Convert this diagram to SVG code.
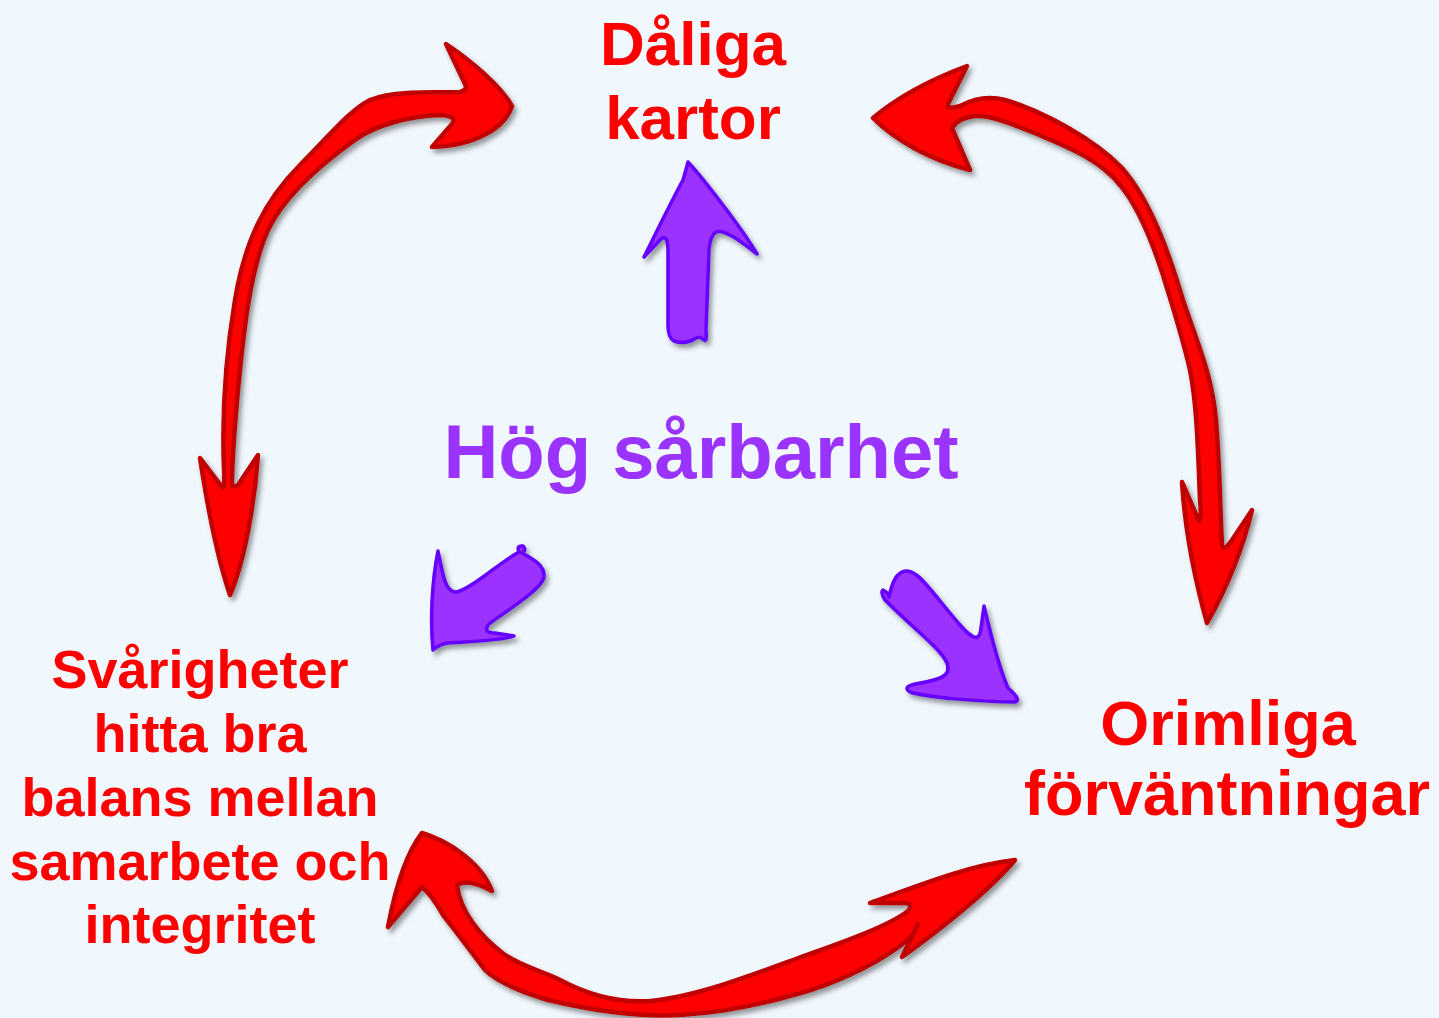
<svg xmlns="http://www.w3.org/2000/svg" width="1439" height="1018" viewBox="0 0 1439 1018">
<defs>
<filter id="sh" x="-20%" y="-20%" width="140%" height="140%">
<feDropShadow dx="3" dy="4" stdDeviation="2.5" flood-color="#4a4a4a" flood-opacity="0.55"/>
</filter>
<style>
.red{fill:#ff0000;font-family:"Liberation Sans",Arial,sans-serif;font-weight:bold;text-anchor:middle}
.pur{fill:#9b33ff;font-family:"Liberation Sans",Arial,sans-serif;font-weight:bold;text-anchor:middle}
.ra{fill:#ff0000;stroke:#c00000;stroke-width:4.5;stroke-linejoin:round;filter:url(#sh)}
.pa{fill:#9b30ff;stroke:#6600ff;stroke-width:3.5;stroke-linejoin:round;filter:url(#sh)}
</style>
</defs>
<rect width="1439" height="1018" fill="#f0f7fd"/>
<g id="connectors">
<path class="ra" d="M512,106 C505,128 475,146 432,147 L452,124 Q458,116 440,115 C410,116 375,125 355,140 C320,165 285,195 268,230 C252,265 245,320 240,370 C236,410 233,445 232,478 Q231,490 238,485 L258,455 C255,500 245,560 230,595 C218,560 208,510 200,458 L222,487 Q225,490 224,470 C222,420 225,360 235,300 C245,240 265,200 300,165 C330,135 350,110 370,100 C390,92 420,92 460,92 Q468,90 465,84 L446,44 C470,60 500,85 512,106 Z"/>
<path class="ra" d="M873,118 C900,95 935,78 967,66 L948,104 Q945,110 960,106 C975,98 990,96 1005,100 C1045,112 1095,140 1122,168 C1150,200 1168,250 1183,300 C1198,345 1212,375 1216,420 C1220,470 1220,505 1222,545 Q1224,552 1232,540 L1252,510 C1240,560 1220,600 1207,623 C1195,580 1185,530 1182,482 L1199,521 Q1202,520 1200,500 C1198,450 1197,405 1190,370 C1182,335 1172,305 1163,275 C1150,235 1137,205 1120,185 C1100,160 1070,148 1037,134 C1010,123 990,115 975,116 Q958,118 952,128 L970,170 C930,160 895,140 873,118 Z"/>
<path class="ra" d="M422,833 C445,840 480,860 492,891 Q468,878 457,885 C460,910 478,935 505,955 C525,968 545,972 560,980 C590,996 620,1003 650,1001 C700,996 760,972 801,957 C850,940 890,925 908,911 Q914,904 905,903 L870,903 C920,885 970,865 1015,860 C990,890 940,930 902,957 L918,924 Q915,935 900,946 C870,968 830,985 801,993 C760,1005 720,1013 680,1015 C640,1017 590,1010 548,1000 C515,990 495,980 485,970 C470,950 455,930 443,915 Q432,895 422,887 L388,927 C395,890 405,855 422,833 Z"/>
<path class="pa" d="M688,162 C700,175 740,225 757,254 C745,245 725,228 716,232 Q710,236 709,250 L706,330 Q707,343 704,340 Q700,336 696,338 Q686,345 674,341 Q668,338 668,325 L668,252 Q668,232 660,240 L644,257 C655,235 672,200 683,180 Q686,170 688,162 Z"/>
<path class="pa" d="M438,551 C443,575 445,592 456,592 C470,590 500,562 519,552 Q516,545 523,546 Q527,550 522,553 C535,560 545,566 544,577 C542,590 500,615 489,624 Q482,633 495,633 L514,636 Q505,640 448,643 Q440,644 433,650 C430,620 432,580 438,551 Z"/>
<path class="pa" d="M885,600 Q880,592 883,590 Q888,592 889,597 C892,583 896,572 906,571 C918,570 930,590 960,625 C975,642 980,640 981,628 L984,606 C992,640 1000,670 1008,688 Q1022,700 1015,702 C980,702 925,697 910,692 Q902,687 915,684 C940,680 952,676 947,663 C940,648 915,630 885,600 Z"/>
</g>
<g id="node-daliga-kartor">
<text class="red" font-size="62" x="693" y="65">Dåliga</text>
<text class="red" font-size="62" x="693" y="139">kartor</text>
</g>
<g id="node-hog-sarbarhet">
<text class="pur" font-size="76" x="701" y="478">Hög sårbarhet</text>
</g>
<g id="node-svarigheter">
<text class="red" font-size="54" x="200" y="688">Svårigheter</text>
<text class="red" font-size="54" x="200" y="752">hitta bra</text>
<text class="red" font-size="54" x="200" y="816">balans mellan</text>
<text class="red" font-size="54" x="200" y="880">samarbete och</text>
<text class="red" font-size="54" x="200" y="943">integritet</text>
</g>
<g id="node-orimliga">
<text class="red" font-size="63" x="1228" y="745">Orimliga</text>
<text class="red" font-size="63" x="1227" y="815">förväntningar</text>
</g>
</svg>
